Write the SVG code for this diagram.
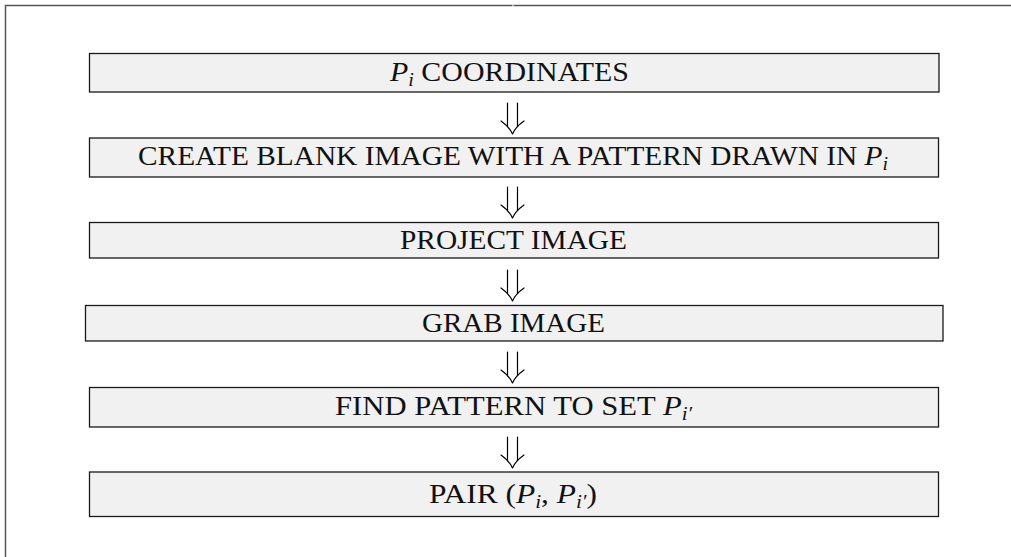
<svg xmlns="http://www.w3.org/2000/svg" width="1011" height="557" viewBox="0 0 1011 557">
<style>
  .frame { stroke: #555; stroke-width: 1.5; fill: none; }
  .box { fill: #f1f1f1; stroke: #1a1a1a; stroke-width: 1.3; }
  .lbl { font-family: "Liberation Serif", "Times New Roman", serif; font-size: 28px; fill: #111; }
  .m { font-style: italic; }
  .sub { font-style: italic; font-size: 19px; }
  .arr { fill: none; stroke: #000; stroke-width: 1.2; stroke-linecap: round; stroke-linejoin: round; }
</style>
<defs>
  <g id="dArrow">
    <path class="arr" d="M -5 -31 V -7.4 M 5 -31 V -7.4"/>
    <path class="arr" d="M -11.5 -13 Q -3 -7 0 0 Q 3 -7 11.5 -13"/>
  </g>
</defs>
<rect width="1011" height="557" fill="#fff"/>
<g id="frame">
  <path class="frame" d="M 5.5 557 V 5.5 H 512.5 M 513.5 5.5 H 1011"/>
</g>
<g id="connectors">
  <use href="#dArrow" transform="translate(512.5,134)"/>
  <use href="#dArrow" transform="translate(512.5,218)"/>
  <use href="#dArrow" transform="translate(512.5,301)"/>
  <use href="#dArrow" transform="translate(512.5,383)"/>
  <use href="#dArrow" transform="translate(512.5,468)"/>
</g>
<g id="n1">
  <rect class="box" x="89.5" y="53.5" width="849.5" height="38.5"/>
  <text class="lbl" x="390" y="81" textLength="239" lengthAdjust="spacingAndGlyphs"><tspan class="m">P</tspan><tspan class="sub" dy="5">i</tspan><tspan dy="-5"> COORDINATES</tspan></text>
</g>
<g id="n2">
  <rect class="box" x="89.5" y="138" width="849" height="39"/>
  <text class="lbl" x="138" y="165" textLength="750" lengthAdjust="spacingAndGlyphs">CREATE BLANK IMAGE WITH A PATTERN DRAWN IN <tspan class="m">P</tspan><tspan class="sub" dy="5">i</tspan></text>
</g>
<g id="n3">
  <rect class="box" x="89.5" y="222.5" width="849" height="35.5"/>
  <text class="lbl" x="400" y="249" textLength="227" lengthAdjust="spacingAndGlyphs">PROJECT IMAGE</text>
</g>
<g id="n4">
  <rect class="box" x="85.5" y="305.5" width="857.5" height="35.5"/>
  <text class="lbl" x="422" y="332" textLength="183" lengthAdjust="spacingAndGlyphs">GRAB IMAGE</text>
</g>
<g id="n5">
  <rect class="box" x="89.5" y="387.5" width="849" height="39.5"/>
  <text class="lbl" x="335" y="415" textLength="357" lengthAdjust="spacingAndGlyphs">FIND PATTERN TO SET <tspan class="m">P</tspan><tspan class="sub" dy="5">i′</tspan></text>
</g>
<g id="n6">
  <rect class="box" x="89.5" y="472" width="849" height="44.5"/>
  <text class="lbl" x="429" y="503" textLength="168" lengthAdjust="spacingAndGlyphs">PAIR (<tspan class="m">P</tspan><tspan class="sub" dy="5">i</tspan><tspan dy="-5">, </tspan><tspan class="m">P</tspan><tspan class="sub" dy="5">i′</tspan><tspan dy="-5">)</tspan></text>
</g>
</svg>
